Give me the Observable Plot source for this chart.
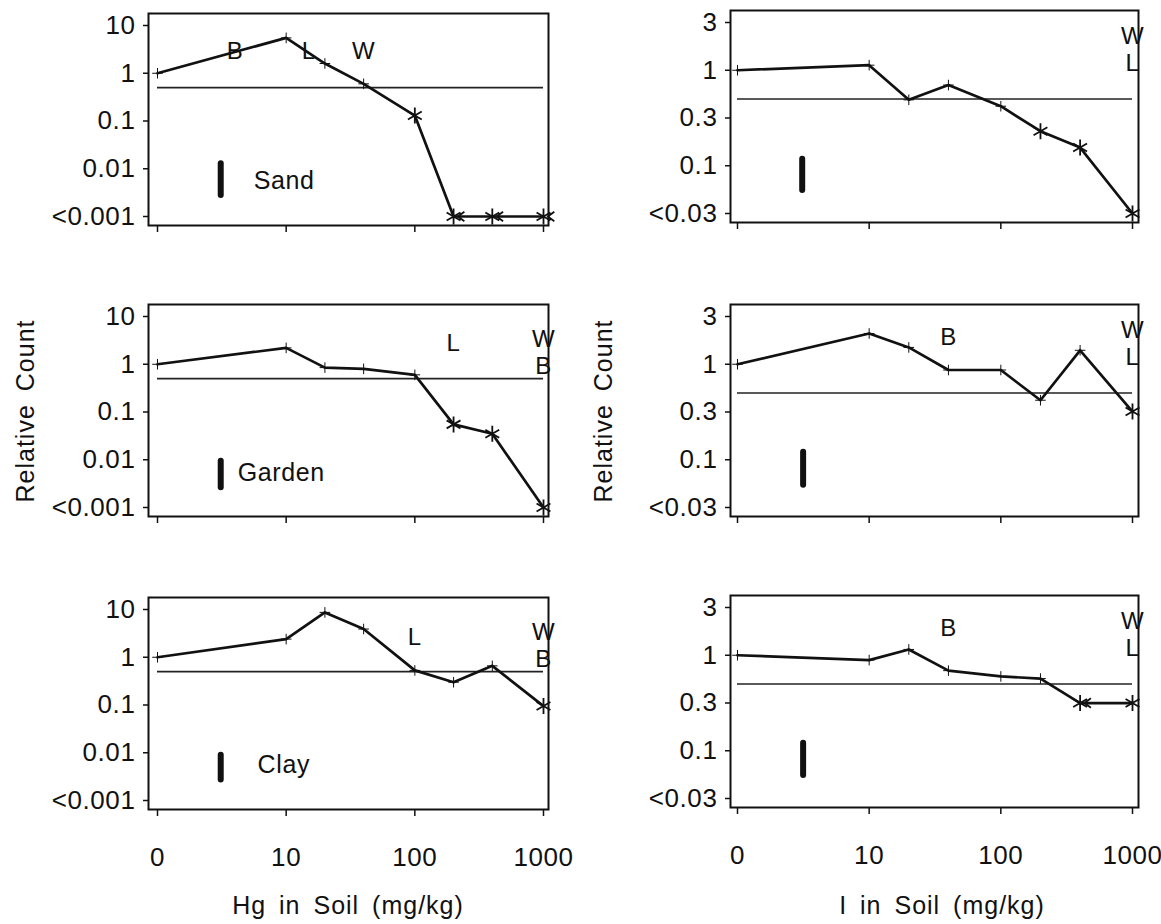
<!DOCTYPE html>
<html>
<head>
<meta charset="utf-8">
<script src="https://cdn.jsdelivr.net/npm/d3@7"></script>
<script src="https://cdn.jsdelivr.net/npm/@observablehq/plot@0.6"></script>
<style>
  body { margin: 0; background: #fff; }
  #chart { position: relative; width: 1161px; height: 924px; background: #fff;
           font-family: "Liberation Sans", Arial, Helvetica, sans-serif; color: #111; }
  .panel { position: absolute; }
  .title { position: absolute; font-size: 25px; white-space: nowrap; color: #111;
           letter-spacing: 1px; word-spacing: 5px; transform: translate(-50%, -50%); }
  .ytitle { transform: translate(-50%, -50%) rotate(-90deg); }
</style>
</head>
<body>
<div id="chart"></div>
<script>
// ---- data ----
const levels = [0, 10, 20, 40, 100, 200, 400, 1000];   // soil concentration (mg/kg); 0 drawn at the "0" tick

const hgSand   = [1, 5.5, 1.6, 0.6, 0.13, 0.001, 0.001, 0.001];
const hgGarden = [1, 2.2, 0.85, 0.8, 0.6, 0.055, 0.035, 0.001];
const hgClay   = [1, 2.4, 8.7, 3.9, 0.53, 0.3, 0.66, 0.095];
const iSand    = [1, 1.13, 0.49, 0.7, 0.42, 0.23, 0.155, 0.0316];
const iGarden  = [1, 2.1, 1.5, 0.87, 0.87, 0.42, 1.4, 0.32];
const iClay    = [1, 0.89, 1.15, 0.69, 0.6, 0.57, 0.316, 0.316];

// 0 = plain vertex, 1 = asterisk, 2 = asterisk with "<" arrow
const hgSandSig   = [0, 0, 0, 0, 1, 2, 2, 2];
const hgGardenSig = [0, 0, 0, 0, 0, 1, 1, 1];
const hgClaySig   = [0, 0, 0, 0, 0, 0, 0, 1];
const iSandSig    = [0, 0, 0, 0, 0, 1, 1, 1];
const iGardenSig  = [0, 0, 0, 0, 0, 0, 0, 1];
const iClaySig    = [0, 0, 0, 0, 0, 0, 2, 1];

const referenceLevel = 0.5;

const hgSandLetters   = [{t: "B", x: 4, y: 2.9}, {t: "L", x: 15, y: 2.9}, {t: "W", x: 40, y: 2.9}];
const hgGardenLetters = [{t: "L", x: 200, y: 2.8}, {t: "W", x: 1000, y: 3.3}, {t: "B", x: 1000, y: 0.92}];
const hgClayLetters   = [{t: "L", x: 100, y: 2.6}, {t: "W", x: 1000, y: 3.3}, {t: "B", x: 1000, y: 0.92}];
const iSandLetters    = [{t: "W", x: 1000, y: 2.25}, {t: "L", x: 1000, y: 1.17}];
const iGardenLetters  = [{t: "B", x: 40, y: 1.9}, {t: "W", x: 1000, y: 2.25}, {t: "L", x: 1000, y: 1.17}];
const iClayLetters    = [{t: "B", x: 40, y: 1.9}, {t: "W", x: 1000, y: 2.25}, {t: "L", x: 1000, y: 1.17}];

const soilNames = ["Sand", "Garden", "Clay"];
const soilLabelX = [5.6, 4.2, 6];
const soilLabelY = [0.0056, 0.0053, 0.0055];
const hgBars = [{x: 3.1, y1: 0.0128, y2: 0.00275}, {x: 3.1, y1: 0.0093, y2: 0.0026}, {x: 3.1, y1: 0.0089, y2: 0.0027}];
const iBars  = [{x: 3.1, y1: 0.117, y2: 0.055}, {x: 3.15, y1: 0.12, y2: 0.054}, {x: 3.15, y1: 0.12, y2: 0.055}];

const xTickValues = [1, 10, 100, 1000];
const xTickLabels = ["0", "10", "100", "1000"];
const hgYTicks  = [10, 1, 0.1, 0.01, 0.001];
const hgYLabels = ["10", "1", "0.1", "0.01", "<0.001"];
const iYTicks   = [3.162, 1, 0.3162, 0.1, 0.03162];
const iYLabels  = ["3", "1", "0.3", "0.1", "<0.03"];

const xTitles = ["Hg in Soil (mg/kg)", "I in Soil (mg/kg)"];
const yTitle = "Relative Count";

// ---- symbols ----
const star6 = {
  draw(ctx, size) {
    const r = Math.sqrt(size / Math.PI);
    for (let k = 0; k < 3; k++) {
      const a = Math.PI / 2 + k * Math.PI / 3;
      ctx.moveTo(r * Math.cos(a), r * Math.sin(a));
      ctx.lineTo(-r * Math.cos(a), -r * Math.sin(a));
    }
  }
};
const star6Arrow = {
  draw(ctx, size) {
    star6.draw(ctx, size);
    const r = Math.sqrt(size / Math.PI);
    ctx.moveTo(r * 1.35, -r * 0.6);
    ctx.lineTo(r * 0.55, 0);
    ctx.lineTo(r * 1.35, r * 0.6);
  }
};

// ---- layout ----
const FONT = '"Liberation Sans", Arial, Helvetica, sans-serif';
const frameH = 212;
const cols = [
  {left: 0,   width: 560, marginLeft: 148, marginRight: 12, insetLeft: 9, insetRight: 5,
   tops: [13, 304, 597], yTicks: hgYTicks, yLabels: hgYLabels, yDomain: [0.001, 10],
   series: [hgSand, hgGarden, hgClay], sig: [hgSandSig, hgGardenSig, hgClaySig],
   letters: [hgSandLetters, hgGardenLetters, hgClayLetters], bars: hgBars, soil: true},
  {left: 580, width: 570, marginLeft: 150, marginRight: 12, insetLeft: 7, insetRight: 6,
   tops: [10, 304, 595], yTicks: iYTicks, yLabels: iYLabels, yDomain: [0.03162, 3.162],
   series: [iSand, iGarden, iClay], sig: [iSandSig, iGardenSig, iClaySig],
   letters: [iSandLetters, iGardenLetters, iClayLetters], bars: iBars, soil: false}
];

const chart = document.getElementById("chart");

cols.forEach((col, ci) => {
  const yLabelMap = new Map(col.yTicks.map((v, i) => [v, col.yLabels[i]]));
  const xLabelMap = new Map(xTickValues.map((v, i) => [v, xTickLabels[i]]));
  col.tops.forEach((frameTop, ri) => {
    const bottomRow = ri === 2;
    const marginTop = 8;
    const marginBottom = bottomRow ? 70 : 14;
    const height = marginTop + frameH + marginBottom;
    const rows = levels.map((c, i) => ({pos: c === 0 ? 1 : c, v: col.series[ri][i], sig: col.sig[ri][i]}));
    const marks = [
      Plot.frame({stroke: "#111", strokeWidth: 2}),
      Plot.axisY({ticks: col.yTicks, tickFormat: d => yLabelMap.get(d), tickSize: 5, tickPadding: 8,
                  strokeWidth: 1.5, label: null, fontSize: 26}),
      Plot.axisX({ticks: xTickValues, tickFormat: bottomRow ? (d => xLabelMap.get(d)) : (() => ""),
                  tickSize: 7, tickPadding: 31, strokeWidth: 1.5, label: null, fontSize: 26}),
      Plot.ruleY([{y: referenceLevel, x1: 1, x2: 1000}], {y: "y", x1: "x1", x2: "x2", stroke: "#222", strokeWidth: 1.6}),
      Plot.line(rows, {x: "pos", y: "v", stroke: "#111", strokeWidth: 2.7, strokeLinejoin: "round"}),
      Plot.dot(rows.filter(d => d.sig === 0), {x: "pos", y: "v", symbol: "plus", r: 3.5, stroke: "#111", strokeWidth: 1}),
      Plot.dot(rows.filter(d => d.sig === 1), {x: "pos", y: "v", symbol: star6, r: 8, fill: "none", stroke: "#111", strokeWidth: 1.8}),
      Plot.dot(rows.filter(d => d.sig === 2), {x: "pos", y: "v", symbol: star6Arrow, r: 8, fill: "none", stroke: "#111", strokeWidth: 1.8}),
      Plot.text(col.letters[ri], {x: "x", y: "y", text: "t", fontSize: 24, fill: "#111", lineAnchor: "middle"}),
      Plot.ruleX([col.bars[ri]], {x: "x", y1: "y1", y2: "y2", stroke: "#111", strokeWidth: 6, strokeLinecap: "round"})
    ];
    if (col.soil) {
      marks.push(Plot.text([{x: soilLabelX[ri], y: soilLabelY[ri], t: soilNames[ri]}],
        {x: "x", y: "y", text: "t", textAnchor: "start", lineAnchor: "middle", fontSize: 25, fill: "#111"}));
    }
    const svg = Plot.plot({
      width: col.width, height,
      marginLeft: col.marginLeft, marginRight: col.marginRight, marginTop, marginBottom,
      x: {type: "log", domain: [1, 1000], insetLeft: col.insetLeft, insetRight: col.insetRight},
      y: {type: "log", domain: col.yDomain, insetTop: 12, insetBottom: 9},
      style: {fontFamily: FONT, fontSize: "26px", color: "#111", background: "transparent",
              overflow: "visible", letterSpacing: "0.6px"},
      marks
    });
    const div = document.createElement("div");
    div.className = "panel";
    div.style.left = col.left + "px";
    div.style.top = (frameTop - marginTop) + "px";
    div.style.width = col.width + "px";
    div.appendChild(svg);
    chart.appendChild(div);
  });
});

// axis titles
const xt = [{text: xTitles[0], x: 348, y: 905}, {text: xTitles[1], x: 942, y: 905}];
xt.forEach(t => {
  const d = document.createElement("div");
  d.className = "title";
  d.textContent = t.text;
  d.style.left = t.x + "px"; d.style.top = t.y + "px";
  chart.appendChild(d);
});
[25, 603].forEach(x => {
  const d = document.createElement("div");
  d.className = "title ytitle";
  d.textContent = yTitle;
  d.style.left = x + "px"; d.style.top = "411px";
  chart.appendChild(d);
});
</script>
</body>
</html>
